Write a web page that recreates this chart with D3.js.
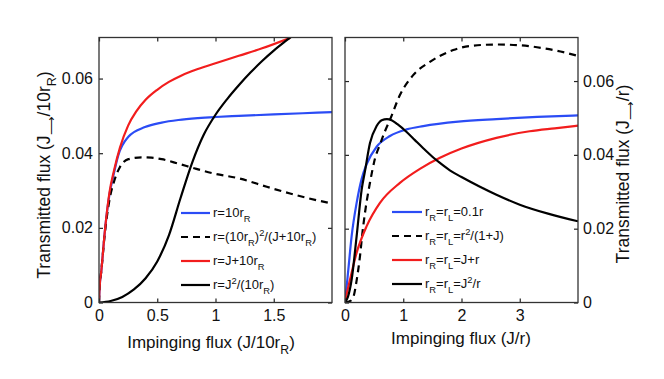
<!DOCTYPE html>
<html>
<head>
<meta charset="utf-8">
<script src="https://cdn.jsdelivr.net/npm/d3@7"></script>
<style>
  body { margin: 0; background: #fff; }
  svg { display: block; font-family: Arial, "Liberation Sans", Helvetica, sans-serif; }
</style>
</head>
<body>
<svg width="664" height="379"></svg>
<script>
// ---- left panel data (x: J/10r_R, y: transmitted flux) ----
const leftBlueX = [0, 0.005, 0.02, 0.05, 0.09, 0.12, 0.166, 0.252, 0.395, 0.538, 0.681, 0.85, 1.0, 1.2, 1.5, 1.75, 2.0];
const leftBlueY = [0, 0.004, 0.0085, 0.019, 0.029, 0.0335, 0.0395, 0.0444, 0.047, 0.0482, 0.0489, 0.0494, 0.0497, 0.05, 0.0504, 0.0507, 0.051];

const leftDashX = [0, 0.005, 0.02, 0.05, 0.09, 0.13, 0.18, 0.252, 0.367, 0.45, 0.538, 0.681, 0.824, 0.981, 1.21, 1.44, 1.64, 1.8, 2.0];
const leftDashY = [0, 0.004, 0.0085, 0.0185, 0.0275, 0.0325, 0.0363, 0.0384, 0.0389, 0.0388, 0.0384, 0.0372, 0.0359, 0.0346, 0.0332, 0.031, 0.0292, 0.0279, 0.0265];

const leftRedX = [0, 0.005, 0.02, 0.05, 0.09, 0.13, 0.18, 0.25, 0.32, 0.4, 0.5, 0.6, 0.7, 0.8, 0.9, 1.0, 1.2, 1.4, 1.64];
const leftRedY = [0, 0.004, 0.0085, 0.019, 0.0295, 0.0355, 0.0415, 0.0474, 0.0512, 0.0543, 0.057, 0.0591, 0.0607, 0.062, 0.0631, 0.0641, 0.0661, 0.0681, 0.0709];

const leftBlackX = [0, 0.1, 0.2, 0.3, 0.4, 0.5, 0.6, 0.7, 0.8, 0.9, 1.0, 1.1, 1.2, 1.3, 1.4, 1.5, 1.6, 1.65];
const leftBlackY = [0, 0.0004, 0.0015, 0.0035, 0.0065, 0.011, 0.018, 0.028, 0.0375, 0.045, 0.0503, 0.0545, 0.0582, 0.0616, 0.0647, 0.0675, 0.07, 0.0712];

// ---- right panel data (x: J/r) ----
const rightBlueX = [0, 0.02, 0.057, 0.114, 0.2, 0.286, 0.372, 0.543, 0.772, 1.058, 1.343, 1.944, 2.6, 3.3, 4.0];
const rightBlueY = [0, 0.003, 0.0089, 0.018, 0.027, 0.0335, 0.0375, 0.0422, 0.0451, 0.0469, 0.0478, 0.049, 0.0497, 0.0503, 0.0507];

const rightDashX = [0, 0.1, 0.15, 0.2, 0.257, 0.3, 0.343, 0.429, 0.515, 0.6, 0.686, 0.772, 0.943, 1.17, 1.458, 1.858, 2.2, 2.6, 3.0, 3.4, 3.7, 4.0];
const rightDashY = [0, 0.0005, 0.0018, 0.006, 0.0125, 0.019, 0.0243, 0.0325, 0.039, 0.0428, 0.0464, 0.0495, 0.0562, 0.0616, 0.0652, 0.0684, 0.0696, 0.0699, 0.0697, 0.0689, 0.068, 0.0668];

const rightRedX = [0, 0.02, 0.086, 0.2, 0.372, 0.6, 0.943, 1.286, 1.63, 2.0, 2.6, 3.17, 3.6, 4.0];
const rightRedY = [0, 0.0016, 0.0062, 0.0135, 0.0207, 0.027, 0.0324, 0.0362, 0.0392, 0.0417, 0.0446, 0.0464, 0.0472, 0.0479];

const rightBlackX = [0, 0.05, 0.114, 0.2, 0.286, 0.343, 0.429, 0.543, 0.63, 0.72, 0.8, 0.9, 1.058, 1.2, 1.343, 1.5, 1.63, 1.8, 2.0, 2.3, 2.6, 3.0, 3.5, 4.0];
const rightBlackY = [0, 0.0015, 0.0062, 0.018, 0.0306, 0.0356, 0.0432, 0.0478, 0.0494, 0.0497, 0.0494, 0.0483, 0.0462, 0.044, 0.0418, 0.0395, 0.0378, 0.0358, 0.034, 0.0315, 0.0292, 0.0265, 0.024, 0.022];

const leftXTicks = [0, 0.5, 1, 1.5];
const rightXTicks = [0, 1, 2, 3];
const yTicks = [0, 0.02, 0.04, 0.06];

const BLUE = "#2b4cf5";
const RED = "#f21d1d";
const BLACK = "#000";

const zip = (xs, ys) => xs.map((x, i) => [x, ys[i]]);

const svg = d3.select("svg");

const drawPanel = (cfg) => {
  const { id, left, right, top, bottom, xMax, yMax, xTicks, series, yLabelSide } = cfg;
  const x = d3.scaleLinear().domain([0, xMax]).range([left, right]);
  const y = d3.scaleLinear().domain([0, yMax]).range([bottom, top]);

  svg.append("clipPath").attr("id", id)
    .append("rect")
    .attr("x", left).attr("y", top)
    .attr("width", right - left).attr("height", bottom - top);

  const line = d3.line()
    .x((d) => x(d[0]))
    .y((d) => y(d[1]))
    .curve(d3.curveMonotoneX);

  const g = svg.append("g").attr("clip-path", `url(#${id})`);
  g.selectAll("path")
    .data(series)
    .enter()
    .append("path")
    .attr("d", (d) => line(zip(d.x, d.y)))
    .attr("fill", "none")
    .attr("stroke", (d) => d.color)
    .attr("stroke-width", 2.2)
    .attr("stroke-dasharray", (d) => (d.dashed ? "7,5" : null));

  // matlab style box with inside ticks on all sides
  const fmtY = (d) => (d === 0 ? "0" : d3.format(".2f")(d));
  const bottomAxis = d3.axisBottom(x).tickValues(xTicks).tickSizeInner(-4).tickSizeOuter(0).tickPadding(7)
    .tickFormat((d) => d);
  const topAxis = d3.axisTop(x).tickValues(xTicks).tickSizeInner(-4).tickSizeOuter(0).tickFormat("");
  const leftAxis = d3.axisLeft(y).tickValues(yTicks).tickSizeInner(-4).tickSizeOuter(0).tickPadding(6)
    .tickFormat(yLabelSide === "left" ? fmtY : "");
  const rightAxis = d3.axisRight(y).tickValues(yTicks).tickSizeInner(-4).tickSizeOuter(0).tickPadding(5)
    .tickFormat(yLabelSide === "right" ? fmtY : "");

  const axes = [
    [bottomAxis, `translate(0,${bottom})`],
    [topAxis, `translate(0,${top})`],
    [leftAxis, `translate(${left},0)`],
    [rightAxis, `translate(${right},0)`],
  ];
  axes.forEach(([ax, tr]) => {
    const a = svg.append("g").attr("transform", tr).call(ax);
    a.select(".domain").remove();
    a.selectAll("line").attr("stroke", "#222").attr("stroke-width", 1.2);
    a.selectAll("text").attr("font-size", 16).attr("fill", "#111").attr("font-family", null);
  });

  svg.append("rect")
    .attr("x", left).attr("y", top)
    .attr("width", right - left).attr("height", bottom - top)
    .attr("fill", "none")
    .attr("stroke", "#333")
    .attr("stroke-width", 1.3);

  return { x, y };
};

drawPanel({
  id: "clipL", left: 99, right: 332, top: 37.5, bottom: 302.5,
  xMax: 2, yMax: 0.071, xTicks: leftXTicks, yLabelSide: "left",
  series: [
    { x: leftBlueX, y: leftBlueY, color: BLUE },
    { x: leftDashX, y: leftDashY, color: BLACK, dashed: true },
    { x: leftRedX, y: leftRedY, color: RED },
    { x: leftBlackX, y: leftBlackY, color: BLACK },
  ],
});

drawPanel({
  id: "clipR", left: 345, right: 578, top: 37.5, bottom: 302.5,
  xMax: 4, yMax: 0.0718, xTicks: rightXTicks, yLabelSide: "right",
  series: [
    { x: rightBlueX, y: rightBlueY, color: BLUE },
    { x: rightDashX, y: rightDashY, color: BLACK, dashed: true },
    { x: rightRedX, y: rightRedY, color: RED },
    { x: rightBlackX, y: rightBlackY, color: BLACK },
  ],
});

// ---- legends ----
const leftLegend = [
  { color: BLUE, parts: [["r=10r", 0], ["R", 1]] },
  { color: BLACK, dashed: true, parts: [["r=(10r", 0], ["R", 1], [")", 0], ["2", -1], ["/(J+10r", 0], ["R", 1], [")", 0]] },
  { color: RED, parts: [["r=J+10r", 0], ["R", 1]] },
  { color: BLACK, parts: [["r=J", 0], ["2", -1], ["/(10r", 0], ["R", 1], [")", 0]] },
];
const rightLegend = [
  { color: BLUE, parts: [["r", 0], ["R", 1], ["=r", 0], ["L", 1], ["=0.1r", 0]] },
  { color: BLACK, dashed: true, parts: [["r", 0], ["R", 1], ["=r", 0], ["L", 1], ["=r", 0], ["2", -1], ["/(1+J)", 0]] },
  { color: RED, parts: [["r", 0], ["R", 1], ["=r", 0], ["L", 1], ["=J+r", 0]] },
  { color: BLACK, parts: [["r", 0], ["R", 1], ["=r", 0], ["L", 1], ["=J", 0], ["2", -1], ["/r", 0]] },
];

// parts: [text, shift] where shift 1 = subscript, -1 = superscript
const richText = (sel, parts, size) => {
  let prev = 0;
  parts.forEach(([t, s]) => {
    const dy = (s - prev) * size * 0.35;
    sel.append("tspan")
      .attr("dy", dy)
      .attr("font-size", s === 0 ? size : size * 0.72)
      .text(t);
    prev = s;
  });
};

const drawLegend = (items, x0, y0, lineLen) => {
  const lg = svg.append("g").attr("transform", `translate(${x0},${y0})`);
  items.forEach((it, i) => {
    const row = lg.append("g").attr("transform", `translate(0,${i * 24})`);
    row.append("line")
      .attr("x1", 0).attr("x2", lineLen)
      .attr("stroke", it.color)
      .attr("stroke-width", 2.2)
      .attr("stroke-dasharray", it.dashed ? "7,5" : null);
    const t = row.append("text").attr("x", lineLen + 3).attr("y", 4).attr("fill", "#111");
    richText(t, it.parts, 13);
  });
};

drawLegend(leftLegend, 181, 213, 29);
drawLegend(rightLegend, 392, 212, 30);

// ---- axis titles ----
const xTitleL = svg.append("text").attr("x", 211).attr("y", 348).attr("text-anchor", "middle")
  .attr("fill", "#111");
richText(xTitleL, [["Impinging flux (J/10r", 0], ["R", 1], [")", 0]], 17);

svg.append("text").attr("x", 461).attr("y", 344).attr("text-anchor", "middle")
  .attr("font-size", 17).attr("fill", "#111").text("Impinging flux (J/r)");

const yTitleL = svg.append("text")
  .attr("transform", "translate(50,175) rotate(-90)")
  .attr("text-anchor", "middle").attr("fill", "#111");
richText(yTitleL, [["Transmitted flux (J", 0], ["\u27F6", 1], ["/10r", 0], ["R", 1], [")", 0]], 17.5);

const yTitleR = svg.append("text")
  .attr("transform", "translate(629,174) rotate(-90)")
  .attr("text-anchor", "middle").attr("fill", "#111");
richText(yTitleR, [["Transmitted flux (J", 0], ["\u27F6", 1], ["/r)", 0]], 17.5);
</script>
</body>
</html>
